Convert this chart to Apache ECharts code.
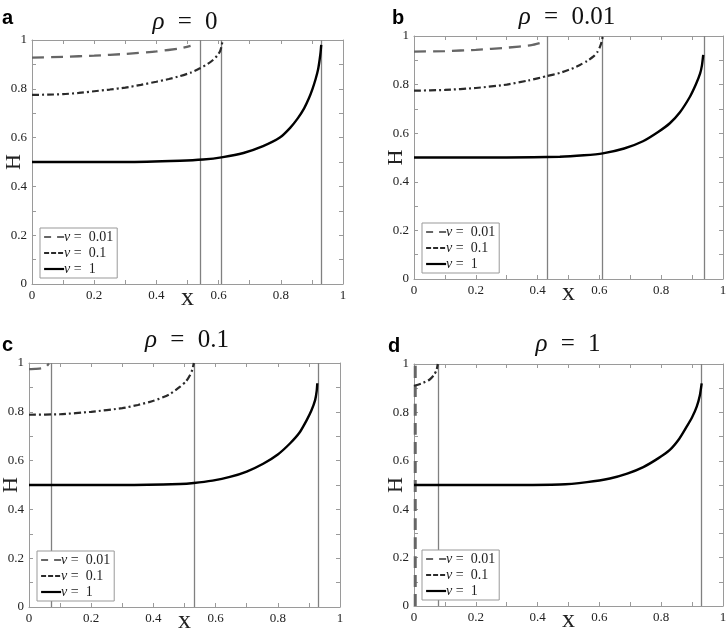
<!DOCTYPE html>
<html>
<head>
<meta charset="utf-8">
<script src="https://cdn.jsdelivr.net/npm/echarts@6/dist/echarts.min.js"></script>
<style>
html, body { margin: 0; padding: 0; background: #fff; }
#main { width: 727px; height: 638px; }
</style>
</head>
<body>
<div id="main"></div>
<script>
/** 面板字母和 rho 值 */
var panelLetters = ['a', 'b', 'c', 'd'];
var rhoValues = ['0', '0.01', '0.1', '1'];
/** 三条曲线 (nu = 0.01 / 0.1 / 1) */
var nuNames = ['ν = 0.01', 'ν = 0.1', 'ν = 1'];

// panel a (rho = 0)
var a_nu001 = [[0,0.928],[0.1,0.931],[0.2,0.936],[0.3,0.943],[0.4,0.953],[0.476,0.966],[0.51,0.976]];
var a_nu01 = [[0,0.775],[0.05,0.776],[0.1,0.778],[0.15,0.783],[0.2,0.79],[0.25,0.797],[0.3,0.805],[0.35,0.816],[0.4,0.829],[0.44,0.84],[0.476,0.852],[0.51,0.866],[0.54,0.884],[0.565,0.902],[0.582,0.918],[0.595,0.935],[0.604,0.952],[0.609,0.972],[0.613,1.0]];
var a_nu1 = [[0,0.5],[0.3,0.5],[0.476,0.505],[0.55,0.51],[0.614,0.52],[0.68,0.537],[0.743,0.565],[0.797,0.6],[0.83,0.64],[0.855,0.68],[0.875,0.72],[0.89,0.76],[0.902,0.8],[0.912,0.84],[0.92,0.88],[0.925,0.92],[0.928,0.95],[0.93,0.98]];
var a_bounds = [0.535, 0.613, 0.929];

// panel b (rho = 0.01)
var b_nu001 = [[0,0.936],[0.1,0.938],[0.2,0.943],[0.3,0.952],[0.38,0.962],[0.42,0.975]];
var b_nu01 = [[0,0.775],[0.1,0.778],[0.2,0.786],[0.3,0.8],[0.37,0.817],[0.43,0.835],[0.472,0.848],[0.51,0.865],[0.537,0.881],[0.56,0.897],[0.58,0.915],[0.593,0.933],[0.602,0.956],[0.607,0.975],[0.611,1.0]];
var b_nu1 = [[0,0.5],[0.3,0.5],[0.472,0.503],[0.55,0.509],[0.611,0.517],[0.68,0.537],[0.741,0.567],[0.79,0.605],[0.828,0.641],[0.86,0.685],[0.893,0.75],[0.912,0.8],[0.926,0.846],[0.932,0.88],[0.936,0.922]];
var b_bounds = [0.434, 0.611, 0.936];

// panel c (rho = 0.1)
var c_nu001 = [[0,0.975],[0.02,0.976],[0.04,0.978],[0.055,0.985],[0.064,0.998]];
var c_nu01 = [[0,0.788],[0.1,0.79],[0.2,0.8],[0.3,0.815],[0.35,0.828],[0.4,0.845],[0.45,0.87],[0.486,0.903],[0.505,0.925],[0.518,0.951],[0.525,0.972],[0.53,1.0]];
var c_nu1 = [[0,0.5],[0.3,0.5],[0.486,0.504],[0.53,0.508],[0.59,0.518],[0.646,0.533],[0.7,0.555],[0.753,0.587],[0.8,0.625],[0.839,0.67],[0.87,0.715],[0.893,0.766],[0.908,0.805],[0.92,0.848],[0.925,0.885],[0.927,0.917]];
var c_bounds = [0.065, 0.53, 0.927];

// panel d (rho = 1)
var d_nu001 = [[0.004,0],[0.004,1]];
var d_nu01 = [[0,0.91],[0.025,0.92],[0.05,0.935],[0.065,0.955],[0.073,0.975],[0.077,1.0]];
var d_nu1 = [[0,0.5],[0.3,0.5],[0.472,0.502],[0.56,0.512],[0.634,0.527],[0.69,0.547],[0.742,0.574],[0.79,0.61],[0.828,0.645],[0.858,0.69],[0.882,0.74],[0.9,0.78],[0.915,0.824],[0.925,0.87],[0.931,0.92]];
var d_bounds = [0.077, 0.931];

var panelData = [
    [a_nu001, a_nu01, a_nu1],
    [b_nu001, b_nu01, b_nu1],
    [c_nu001, c_nu01, c_nu1],
    [d_nu001, d_nu01, d_nu1]
];
var panelBounds = [a_bounds, b_bounds, c_bounds, d_bounds];

var serif = 'Liberation Serif';
var axisGray = '#9a9a9a';

// 每个面板的绘图区位置
var grids = [
    {left: 32, top: 40, width: 311, height: 244},
    {left: 414, top: 36, width: 309, height: 243},
    {left: 29, top: 363, width: 311, height: 244},
    {left: 414, top: 364, width: 309, height: 242}
];
var titlePos = [[185, 22], [567, 17], [187, 340], [568, 344]];
var letterPos = [[2, 18], [392, 18], [2, 345], [388, 346]];

var lineStyles = [
    {color: '#666', width: 2.3, type: [12, 7]},
    {color: '#2a2a2a', width: 2.2, type: [7, 3, 2, 3]},
    {color: '#000', width: 2.4, type: 'solid'}
];
var legendDash = [[7, 6], [5, 2], 'solid'];

function makeAxes(i) {
    var tick = {inside: true, length: 4, lineStyle: {color: axisGray}};
    var minor = {show: true, splitNumber: 2, length: 4, lineStyle: {color: axisGray}};
    var line = {show: true, onZero: false, lineStyle: {color: axisGray, width: 1}};
    var xs = [{
        gridIndex: i, type: 'value', min: 0, max: 1, interval: 0.2, position: 'bottom',
        axisLine: line, axisTick: tick, minorTick: minor, splitLine: {show: false},
        axisLabel: {color: '#222', fontFamily: serif, fontSize: 13, margin: 5},
        name: 'x', nameLocation: 'middle', nameGap: 1, nameMoveOverlap: false,
        nameTextStyle: {fontFamily: serif, fontSize: 26, color: '#222'}
    }, {
        gridIndex: i, type: 'value', min: 0, max: 1, interval: 0.2, position: 'top',
        axisLine: line, axisTick: tick, minorTick: minor, splitLine: {show: false},
        axisLabel: {show: false}
    }];
    var ys = [{
        gridIndex: i, type: 'value', min: 0, max: 1, interval: 0.2, position: 'left',
        axisLine: line, axisTick: tick, minorTick: minor, splitLine: {show: false},
        axisLabel: {color: '#222', fontFamily: serif, fontSize: 13, margin: 5},
        name: 'H', nameLocation: 'middle', nameGap: 7, nameMoveOverlap: false,
        nameTextStyle: {fontFamily: serif, fontSize: 22, color: '#222'}
    }, {
        gridIndex: i, type: 'value', min: 0, max: 1, interval: 0.2, position: 'right',
        axisLine: line, axisTick: tick, minorTick: minor, splitLine: {show: false},
        axisLabel: {show: false}
    }];
    return {xs: xs, ys: ys};
}

var option = {
    animation: false,
    backgroundColor: '#fff',
    grid: [], xAxis: [], yAxis: [], series: [], legend: [], graphic: []
};

for (var i = 0; i < 4; i++) {
    var g = grids[i];
    option.grid.push({
        left: g.left, top: g.top, width: g.width, height: g.height,
        containLabel: false, outerBoundsMode: 'none'
    });
    var ax = makeAxes(i);
    option.xAxis.push(ax.xs[0], ax.xs[1]);
    option.yAxis.push(ax.ys[0], ax.ys[1]);

    for (var k = 0; k < 3; k++) {
        var ls = Object.assign({}, lineStyles[k]);
        if (i === 3 && k === 0) ls.width = 3;
        var s = {
            name: nuNames[k], type: 'line',
            xAxisIndex: 2 * i, yAxisIndex: 2 * i,
            data: panelData[i][k],
            symbol: 'none', showSymbol: false,
            smooth: 0.2,
            lineStyle: ls, itemStyle: {color: ls.color},
            z: 3 + k
        };
        if (k === 2) {
            s.markLine = {
                silent: true, symbol: ['none', 'none'], label: {show: false},
                lineStyle: {color: '#808080', width: 1.3, type: 'solid'},
                z: 2,
                data: panelBounds[i].map(function (v) { return {xAxis: v}; })
            };
        }
        option.series.push(s);
    }

    option.legend.push({
        orient: 'vertical',
        left: g.left + 8, top: g.top + g.height - 56,
        padding: [2, 4, 2, 3], itemGap: 2, itemWidth: 20, itemHeight: 14,
        borderColor: '#999', borderWidth: 1, backgroundColor: '#fff',
        selectedMode: false,
        formatter: function (name) {
            return '{i|ν} =  ' + name.split('= ')[1];
        },
        textStyle: {
            fontFamily: serif, fontSize: 14, color: '#222', padding: [0, 0, 0, -5],
            rich: {i: {fontFamily: serif, fontSize: 14, fontStyle: 'italic', color: '#222'}}
        },
        data: nuNames.map(function (n, k) {
            return {
                name: n,
                lineStyle: {type: legendDash[k], width: 2.2},
                itemStyle: {color: 'rgba(0,0,0,0)', borderWidth: 0, opacity: 0}
            };
        })
    });

    option.graphic.push({
        type: 'text', x: titlePos[i][0], y: titlePos[i][1],
        style: {
            text: '{i|ρ} {e|=} ' + rhoValues[i],
            font: '25px "Liberation Serif"', fill: '#111',
            align: 'center', verticalAlign: 'middle',
            rich: {
                i: {font: 'italic 25px "Liberation Serif"', fill: '#111'},
                e: {font: '25px "Liberation Serif"', fill: '#111', padding: [0, 7, 0, 7]}
            }
        }
    });
    option.graphic.push({
        type: 'text', x: letterPos[i][0], y: letterPos[i][1],
        style: {
            text: panelLetters[i],
            font: 'bold 20px "Liberation Sans"', fill: '#000',
            align: 'left', verticalAlign: 'middle'
        }
    });
}

var myChart = echarts.init(document.getElementById('main'), null, {renderer: 'canvas'});
myChart.setOption(option);
</script>
</body>
</html>
